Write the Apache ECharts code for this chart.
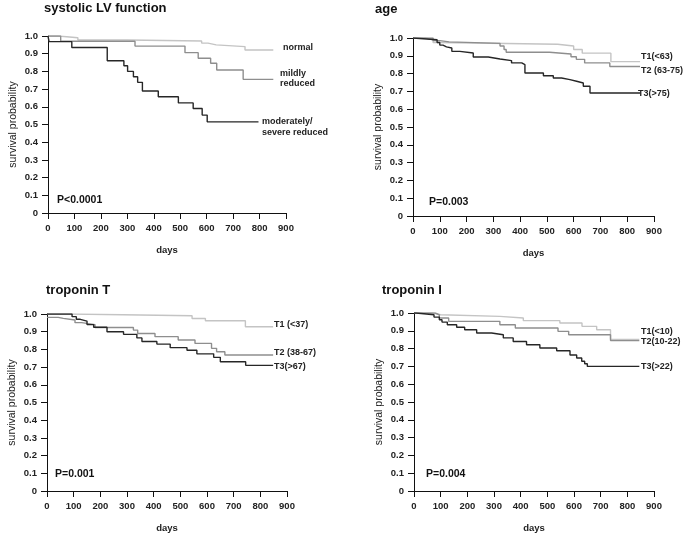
<!DOCTYPE html>
<html>
<head>
<meta charset="utf-8">
<script src="https://cdn.jsdelivr.net/npm/echarts@6/dist/echarts.min.js"></script>
<style>
  html, body { margin: 0; padding: 0; background: #fff; }
  #chart { width: 686px; height: 538px; }
</style>
</head>
<body>
<div id="chart"></div>
<script>
// Kaplan-Meier curves, [day, survival]
const lvNormal = [[0,1],[39,0.99],[113,0.977],[300,0.972],[581,0.96],[605,0.95],[636,0.94],[745,0.921],[852,0.921]];
const lvMild = [[0,1],[48,0.97],[329,0.943],[518,0.906],[568,0.874],[615,0.846],[638,0.808],[738,0.755],[852,0.755]];
const lvModerate = [[0,1],[4,0.968],[90,0.935],[224,0.86],[287,0.832],[301,0.80],[323,0.77],[339,0.738],[357,0.689],[417,0.657],[493,0.622],[549,0.59],[583,0.553],[602,0.515],[796,0.515]];

const ageT1 = [[0,1],[45,0.99],[75,0.975],[95,0.965],[540,0.955],[600,0.935],[632,0.915],[739,0.867],[848,0.867]];
const ageT2 = [[0,1],[75,0.985],[100,0.978],[135,0.97],[325,0.955],[340,0.935],[348,0.92],[510,0.91],[590,0.895],[610,0.88],[641,0.86],[735,0.84],[848,0.84]];
const ageT3 = [[0,1],[5,0.99],[90,0.975],[100,0.96],[112,0.95],[125,0.944],[145,0.925],[175,0.916],[225,0.893],[281,0.882],[325,0.873],[368,0.86],[406,0.85],[418,0.803],[487,0.788],[524,0.775],[555,0.766],[586,0.757],[611,0.747],[636,0.729],[661,0.691],[848,0.691]];

const tntT1 = [[0,1],[90,0.99],[544,0.975],[594,0.962],[744,0.928],[848,0.928]];
const tntT2 = [[0,0.981],[42,0.975],[61,0.966],[105,0.951],[130,0.94],[180,0.924],[324,0.909],[340,0.89],[405,0.872],[492,0.853],[555,0.834],[617,0.806],[636,0.787],[667,0.768],[848,0.768]];
const tntT3 = [[0,1],[94,0.985],[110,0.97],[125,0.96],[150,0.94],[175,0.925],[225,0.90],[287,0.885],[337,0.865],[356,0.845],[412,0.83],[462,0.81],[525,0.795],[562,0.775],[625,0.755],[650,0.73],[745,0.71],[848,0.71]];

const tniT1 = [[0,1],[70,0.99],[100,0.981],[322,0.972],[410,0.957],[547,0.944],[630,0.925],[685,0.906],[737,0.852],[845,0.852]];
const tniT2 = [[0,1],[80,0.99],[95,0.972],[130,0.953],[322,0.934],[380,0.916],[540,0.897],[580,0.878],[737,0.845],[845,0.845]];
const tniT3 = [[0,1],[8,0.99],[75,0.977],[95,0.962],[105,0.949],[125,0.934],[160,0.92],[190,0.906],[235,0.888],[291,0.878],[335,0.86],[372,0.84],[422,0.822],[472,0.803],[535,0.788],[585,0.764],[610,0.747],[629,0.729],[640,0.715],[650,0.70],[845,0.70]];

const titles = ['systolic LV function', 'age', 'troponin T', 'troponin I'];
const pValues = ['P<0.0001', 'P=0.003', 'P=0.001', 'P=0.004'];
const xTicks = [0, 900, 100];

const FONT = '"Liberation Sans", Arial, sans-serif';
const light = '#c4c4c4', mid = '#8e8e8e', dark = '#262626';

const grids = [
    { left: 48, top: 36, width: 238, height: 177 },
    { left: 413, top: 38, width: 241, height: 178 },
    { left: 47, top: 314, width: 240, height: 177 },
    { left: 414, top: 313, width: 240, height: 178 }
];

function xAxisFor(i) {
    return {
        type: 'value', gridIndex: i, min: xTicks[0], max: xTicks[1], interval: xTicks[2],
        name: 'days', nameLocation: 'middle', nameGap: 32,
        nameTextStyle: { fontFamily: FONT, fontWeight: 'bold', fontSize: 9.5, color: '#222' },
        axisLine: { lineStyle: { color: '#111', width: 1 } },
        axisTick: { length: 6, lineStyle: { color: '#111' } },
        axisLabel: { fontFamily: FONT, fontWeight: 'bold', fontSize: 9.5, color: '#222', margin: 10 },
        splitLine: { show: false }
    };
}

function yAxisFor(i) {
    return {
        type: 'value', gridIndex: i, min: 0, max: 1, interval: 0.1,
        name: 'survival probability', nameLocation: 'middle', nameGap: 29,
        nameTextStyle: { fontFamily: FONT, fontSize: 10.5, color: '#222' },
        axisLine: { show: true, lineStyle: { color: '#111', width: 1 } },
        axisTick: { show: true, length: 6, lineStyle: { color: '#111' } },
        axisLabel: {
            fontFamily: FONT, fontWeight: 'bold', fontSize: 9.5, color: '#222', margin: 10,
            formatter: v => v === 0 ? '0' : v.toFixed(1)
        },
        splitLine: { show: false }
    };
}

function km(data, i, color) {
    return {
        type: 'line', step: 'end', data: data, xAxisIndex: i, yAxisIndex: i,
        showSymbol: false, silent: true,
        lineStyle: { color: color, width: 1.4 }
    };
}

function label(text, x, y) {
    return {
        type: 'text', x: x, y: y,
        style: { text: text, font: 'bold 9px ' + FONT, fill: '#222', verticalAlign: 'middle' }
    };
}

const titlePos = [[44, 2], [375, 3], [46, 284], [382, 284]];
const pPos = [[57, 200], [429, 202], [55, 474], [426, 474]];

const option = {
    animation: false,
    title: titles.map((t, i) => ({
        text: t, left: titlePos[i][0], top: titlePos[i][1], padding: 0,
        textStyle: { fontFamily: FONT, fontWeight: 'bold', fontSize: 13, color: '#111' }
    })),
    grid: grids,
    xAxis: [0, 1, 2, 3].map(xAxisFor),
    yAxis: [0, 1, 2, 3].map(yAxisFor),
    series: [
        km(lvNormal, 0, light), km(lvMild, 0, mid), km(lvModerate, 0, dark),
        km(ageT1, 1, light), km(ageT2, 1, mid), km(ageT3, 1, dark),
        km(tntT1, 2, light), km(tntT2, 2, mid), km(tntT3, 2, dark),
        km(tniT1, 3, light), km(tniT2, 3, mid), km(tniT3, 3, dark)
    ],
    graphic: [
        label('normal', 283, 48),
        label('mildly', 280, 74),
        label('reduced', 280, 84),
        label('moderately/', 262, 122),
        label('severe reduced', 262, 133),
        label('T1(<63)', 641, 57),
        label('T2 (63-75)', 641, 71),
        label('T3(>75)', 638, 94),
        label('T1 (<37)', 274, 325),
        label('T2 (38-67)', 274, 353),
        label('T3(>67)', 274, 367),
        label('T1(<10)', 641, 332),
        label('T2(10-22)', 641, 342),
        label('T3(>22)', 641, 367)
    ].concat(pValues.map((p, i) => ({
        type: 'text', x: pPos[i][0], y: pPos[i][1],
        style: { text: p, font: 'bold 10.5px ' + FONT, fill: '#111', verticalAlign: 'middle' }
    })))
};

const myChart = echarts.init(document.getElementById('chart'), null, { renderer: 'canvas', devicePixelRatio: 1 });
myChart.setOption(option);
</script>
</body>
</html>
